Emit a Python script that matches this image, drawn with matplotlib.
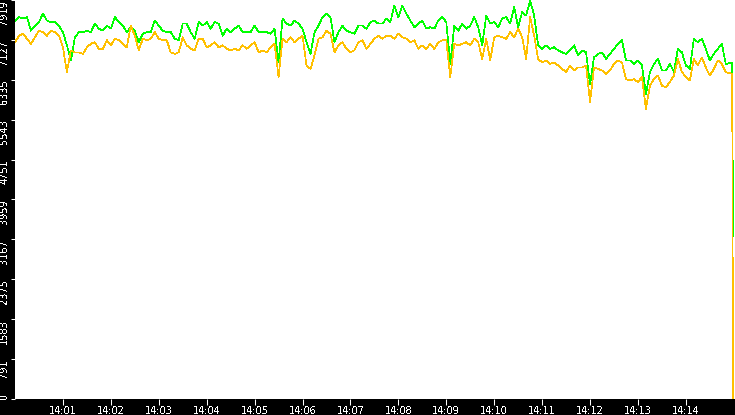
import matplotlib
matplotlib.use("Agg")
import matplotlib.pyplot as plt
import numpy as np

# sample times in seconds after 14:00:00 (every 5 s, last two just before 14:15)
times = list(range(0, 895, 5)) + [898, 899]

green = [
    7510, 7580, 7550, 7580, 7310, 7410, 7480, 7650, 7510, 7480, 7480, 7410, 7280, 7020, 6720, 7180,
    7280, 7280, 7310, 7280, 7450, 7350, 7310, 7410, 7350, 7580, 7480, 7410, 7280, 7380, 7310, 7080,
    7250, 7280, 7280, 7510, 7410, 7310, 7280, 7280, 7150, 7120, 7450, 7450, 7280, 7150, 7480,
    7410, 7480, 7350, 7480, 7450, 7210, 7350, 7280, 7350, 7410, 7280, 7280, 7280, 7410, 7280,
    7280, 7280, 7250, 7350, 6680, 7550, 7450, 7410, 7510, 7450, 7350, 7080, 6850, 7280, 7410,
    7580, 7650, 7580, 7080, 7280, 7410, 7310, 7280, 7250, 7410, 7410, 7350, 7480, 7510, 7450,
    7450, 7550, 7480, 7810, 7580, 7810, 7650, 7510, 7380, 7450, 7510, 7350, 7380, 7350, 7510,
    7580, 7480, 6650, 7410, 7310, 7450, 7350, 7410, 7580, 7380, 7020, 7610, 7450, 7480, 7380,
    7550, 7580, 7450, 7780, 7380, 7680, 7610, 7910, 7610, 7020, 6950, 7020, 6950, 6980, 6920,
    6880, 6850, 6920, 7020, 6820, 6920, 6880, 6250, 6780, 6850, 6880, 6750, 6850, 6950, 7050,
    7120, 6720, 6720, 6650, 6720, 6620, 6050, 6490, 6650, 6750, 6520, 6520, 6650, 6490,
    6950, 6880, 6620, 6550, 7150, 7080, 7150, 6950, 6720, 6850, 6950, 7050, 6650, 6680,
    3230,
]

orange = [
    7080, 7210, 7250, 7150, 7050, 7180, 7310, 7280, 7210, 7310, 7280, 7210, 6980, 6490, 6920, 6880,
    6880, 6850, 6980, 7050, 7080, 6950, 6950, 7120, 7020, 7150, 7120, 7050, 6980, 7410, 7210, 6920,
    7150, 7120, 7150, 7280, 7150, 7120, 7120, 6880, 6850, 6880, 7180, 7020, 6950, 6920, 7150,
    7150, 6980, 7020, 7080, 6980, 7020, 6950, 6920, 6950, 6920, 7020, 6950, 7020, 7080, 6880,
    6920, 6880, 6980, 7050, 6390, 7150, 7080, 7180, 7080, 7150, 7210, 6620, 6550, 6820, 7150,
    7180, 7310, 7250, 6880, 7020, 7080, 6950, 6880, 6920, 7080, 7120, 6950, 7050, 7150, 7210,
    7150, 7210, 7210, 7150, 7250, 7180, 7150, 7080, 7120, 6950, 7020, 6950, 7050, 6950, 7080,
    7120, 7120, 6390, 7050, 7020, 7050, 7080, 7020, 7150, 7080, 6750, 7150, 6720, 7180, 7210,
    7180, 7150, 7280, 7180, 7350, 7180, 6750, 7580, 7210, 6750, 6680, 6720, 6650, 6680, 6620,
    6550, 6490, 6620, 6520, 6580, 6580, 6620, 5890, 6580, 6550, 6520, 6450, 6520, 6650, 6720,
    6680, 6350, 6320, 6350, 6290, 6390, 5760, 6220, 6350, 6420, 6220, 6190, 6290, 6420,
    6750, 6490, 6390, 6320, 6750, 6620, 6780, 6580, 6420, 6550, 6720, 6650, 6490, 6450,
    0,
]

y_max = 7919
y_ticks = [y_max * i / 10 for i in range(11)]
y_labels = [str(int(v)) for v in y_ticks]
x_minutes = list(range(1, 15))

plt.rcParams['text.antialiased'] = False
plt.rcParams['font.family'] = ['DejaVu Sans']

fig = plt.figure(figsize=(7.35, 4.15), dpi=100, facecolor='black')
ax = fig.add_axes([15 / 735, 16 / 415, 720 / 735, 399 / 415])
ax.set_facecolor('white')

ax.plot(times, green, color='#00FF00', lw=0.5, antialiased=False)
ax.plot(times, orange, color='#FFC000', lw=0.5, antialiased=False)

ax.set_xlim(0, 901.5)
ax.set_ylim(0, y_max)

ax.set_xticks([m * 60 for m in x_minutes])
ax.set_xticklabels([f'14:{m:02d}' for m in x_minutes])
ax.set_yticks(y_ticks)
ax.set_yticklabels(y_labels)

for lbl in ax.get_yticklabels():
    lbl.set_rotation(90)
    lbl.set_va('top')
ax.get_yticklabels()[0].set_va('bottom')

ax.tick_params(axis='x', colors='white', length=4.3, width=0.75, pad=1, labelsize=7)
ax.tick_params(axis='y', colors='white', length=3, width=0.75, pad=1.2, labelsize=7)

for s in ax.spines.values():
    s.set_visible(False)

fig.savefig('out.png', dpi=100, facecolor='black')
